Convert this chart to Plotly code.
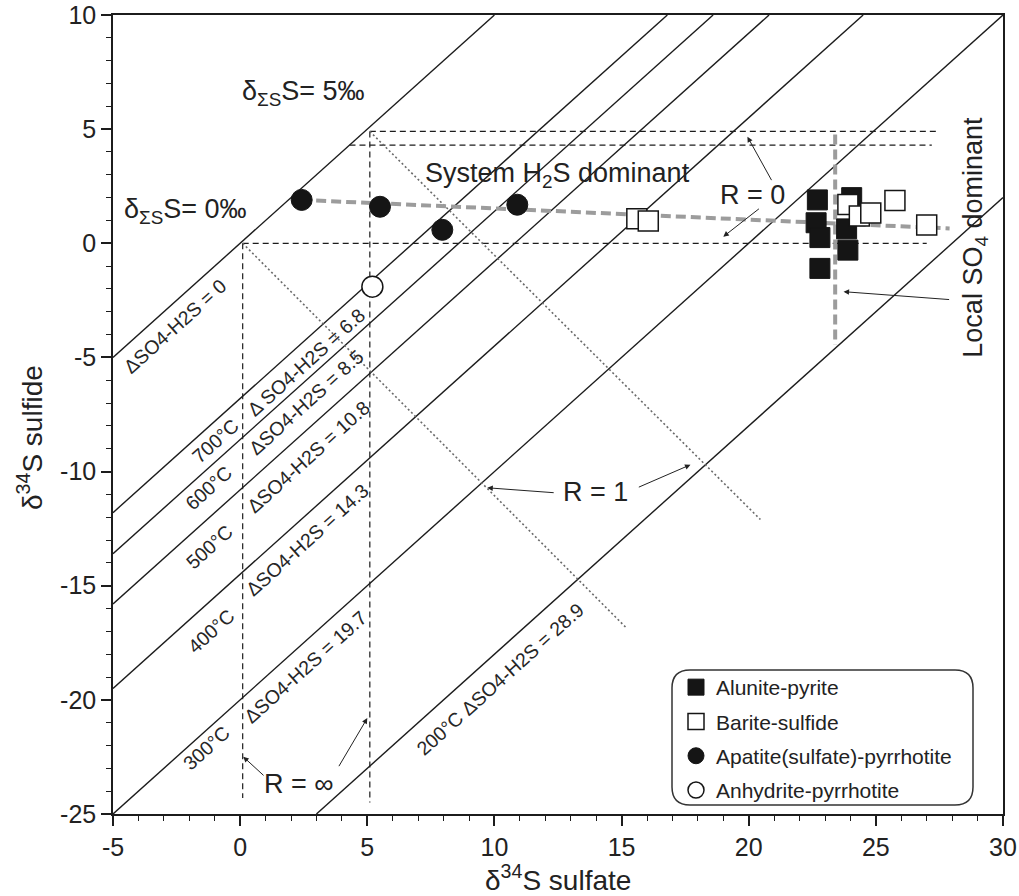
import math
import numpy as np
import plotly.graph_objects as go

# ---------------- data ----------------
alunite_x = [22.7, 24.05, 22.65, 22.8, 23.85, 23.9, 22.8]
alunite_y = [1.9, 2.0, 0.9, 0.25, 0.63, -0.3, -1.1]

barite_x = [15.6, 16.05, 23.9, 24.35, 24.8, 25.75, 27.0]
barite_y = [1.08, 0.98, 1.7, 1.2, 1.33, 1.87, 0.8]

apatite_x = [2.42, 5.5, 7.95, 10.9]
apatite_y = [1.9, 1.6, 0.59, 1.69]

anhydrite_x = [5.2]
anhydrite_y = [-1.9]

# equilibrium fractionation lines  sulfide = sulfate - delta
delta_offsets = [0.0, 6.8, 8.6, 10.8, 14.5, 20.0, 28.0]

# dashed black guide lines (R = 0 / R = inf boxes)
guide_x = [[0.1, 27.0], [4.3, 27.2], [5.1, 27.4], [0.1, 0.1], [5.1, 5.1]]
guide_y = [[0.0, 0.0], [4.3, 4.3], [4.9, 4.9], [0.0, -24.3], [4.9, -24.5]]

# dotted R = 1 lines
r1_x = [[0.1, 15.2], [5.1, 20.46]]
r1_y = [[0.0, -16.86], [4.9, -12.1]]

# grey dashed trend lines
trend_h_x = [2.4, 27.9]
trend_h_y = [1.9, 0.65]
trend_v_x = [23.4, 23.4]
trend_v_y = [4.76, -4.44]

x_tick_vals = [-5, 0, 5, 10, 15, 20, 25, 30]
x_tick_text = ["-5", "0", "5", "10", "15", "20", "25", "30"]
y_tick_vals = [10, 5, 0, -5, -10, -15, -20, -25]
y_tick_text = ["10", "5", "0", "-5", "-10", "-15", "-20", "-25"]

# ---------------- layout constants ----------------
W, H = 1019, 896
ML, MR, MT, MB = 113, 16, 15, 82
XR = [-5, 30]
YR = [-25, 10]
PW, PH = W - ML - MR, H - MT - MB
ang = -math.degrees(math.atan((PH / (YR[1] - YR[0])) / (PW / (XR[1] - XR[0]))))

FONT = "Liberation Sans, Arial, Helvetica, sans-serif"
INK = "#1c1c1c"

fig = go.Figure()

# fractionation lines
for d in delta_offsets:
    xs = max(XR[0], YR[0] + d)
    xe = min(XR[1], YR[1] + d)
    xx = np.array([xs, xe])
    fig.add_trace(go.Scatter(x=xx, y=xx - d, mode="lines",
                             line=dict(color=INK, width=1.4),
                             showlegend=False, hoverinfo="skip"))

for gx, gy in zip(guide_x, guide_y):
    fig.add_trace(go.Scatter(x=gx, y=gy, mode="lines",
                             line=dict(color=INK, width=1.2, dash="6px,4px"),
                             showlegend=False, hoverinfo="skip"))

for rx, ry in zip(r1_x, r1_y):
    fig.add_trace(go.Scatter(x=rx, y=ry, mode="lines",
                             line=dict(color="#6a6a6a", width=1.6, dash="2px,2.5px"),
                             showlegend=False, hoverinfo="skip"))

for tx, ty in [(trend_h_x, trend_h_y), (trend_v_x, trend_v_y)]:
    fig.add_trace(go.Scatter(x=tx, y=ty, mode="lines",
                             line=dict(color="#9c9c9c", width=4, dash="10px,5px"),
                             showlegend=False, hoverinfo="skip"))

fig.add_trace(go.Scatter(x=alunite_x, y=alunite_y, mode="markers", name="Alunite-pyrite",
                         legendgroup="a",
                         marker=dict(symbol="square", size=20, color="#151515",
                                     line=dict(color="#151515", width=1))))
fig.add_trace(go.Scatter(x=barite_x, y=barite_y, mode="markers", name="Barite-sulfide",
                         legendgroup="b",
                         marker=dict(symbol="square", size=20, color="white",
                                     line=dict(color="#151515", width=1.5))))
fig.add_trace(go.Scatter(x=apatite_x, y=apatite_y, mode="markers",
                         name="Apatite(sulfate)-pyrrhotite", legendgroup="c",
                         marker=dict(symbol="circle", size=21, color="#151515",
                                     line=dict(color="#151515", width=1))))
fig.add_trace(go.Scatter(x=anhydrite_x, y=anhydrite_y, mode="markers",
                         name="Anhydrite-pyrrhotite", legendgroup="d",
                         marker=dict(symbol="circle", size=21, color="white",
                                     line=dict(color="#151515", width=1.5))))

ann = []
# labels along the fractionation lines
diag_labels = [
    ("ΔSO4-H2S = 0", -2.56, -3.62),
    ("700°C", -0.99, -8.65),
    ("Δ SO4-H2S = 6.8", 2.6, -5.2),
    ("600°C", -1.26, -10.7),
    ("ΔSO4-H2S = 8.5", 2.6, -6.95),
    ("500°C", -1.22, -13.3),
    ("ΔSO4-H2S = 10.8", 2.67, -9.36),
    ("400°C", -1.14, -17.0),
    ("ΔSO4-H2S = 14.3", 2.63, -13.0),
    ("300°C", -1.34, -22.1),
    ("ΔSO4-H2S = 19.7", 2.56, -18.55),
    ("200°C ΔSO4-H2S = 28.9", 10.23, -19.1),
]
for t, x, y in diag_labels:
    ann.append(dict(x=x, y=y, xref="x", yref="y", text=t, showarrow=False,
                    textangle=ang, font=dict(family=FONT, size=19.5, color="#262626")))

big = dict(family=FONT, size=27, color="#222222")
ann += [
    dict(x=0.0, y=6.6, text="δ<sub>ΣS</sub>S= 5‰", xanchor="left", showarrow=False, font=big),
    dict(x=-4.65, y=1.4, text="δ<sub>ΣS</sub>S= 0‰", xanchor="left", showarrow=False, font=big),
    dict(x=7.2, y=3.0, text="System H<sub>2</sub>S dominant", xanchor="left", showarrow=False, font=big),
    dict(x=20.15, y=2.12, text="R = 0", showarrow=False, font=big),
    dict(x=13.97, y=-10.9, text="R = 1", showarrow=False, font=big),
    dict(x=2.32, y=-23.7, text="R = ∞", showarrow=False, font=big),
    dict(x=28.92, y=0.27, text="Local SO<sub>4</sub> dominant", textangle=-90,
         showarrow=False, font=big),
]
for a in ann:
    a.setdefault("xref", "x")
    a.setdefault("yref", "y")

# arrows: (tail x, tail y, head x, head y)
arrows = [
    (20.93, 2.7, 19.95, 4.67),
    (20.46, 1.56, 19.0, 0.29),
    (27.94, -2.47, 23.73, -2.12),
    (12.39, -10.93, 9.72, -10.71),
    (15.62, -10.71, 17.71, -9.7),
    (0.98, -23.37, 0.12, -22.49),
    (3.85, -22.97, 5.0, -20.8),
]
for tx, ty, hx, hy in arrows:
    ann.append(dict(x=hx, y=hy, ax=tx, ay=ty, xref="x", yref="y", axref="x", ayref="y",
                    text="", showarrow=True, arrowhead=2, arrowsize=1.1, arrowwidth=1,
                    arrowcolor="#222222"))

# axis titles
ann += [
    dict(x=0.5, y=0, xref="paper", yref="paper", yanchor="middle", xanchor="center",
         yshift=-64, showarrow=False,
         text="δ<sup>34</sup>S sulfate", font=dict(family=FONT, size=28, color="#222222")),
    dict(x=0, y=(MT + PH - 438) / PH, xref="paper", yref="paper", xanchor="center",
         yanchor="middle", xshift=-83, showarrow=False, textangle=-90,
         text="δ<sup>34</sup>S sulfide", font=dict(family=FONT, size=28, color="#222222")),
]

# rounded legend frame (paper coords)
bx0, bx1 = (672 - ML) / PW, (973 - ML) / PW
by0, by1 = (MT + PH - 805) / PH, (MT + PH - 670) / PH
rx, ry = 18 / PW, 18 / PH
path = (f"M {bx0+rx},{by1} L {bx1-rx},{by1} Q {bx1},{by1} {bx1},{by1-ry} "
        f"L {bx1},{by0+ry} Q {bx1},{by0} {bx1-rx},{by0} L {bx0+rx},{by0} "
        f"Q {bx0},{by0} {bx0},{by0+ry} L {bx0},{by1-ry} Q {bx0},{by1} {bx0+rx},{by1} Z")

axis_common = dict(showgrid=False, zeroline=False, showline=True, linecolor=INK, linewidth=1.5,
                   mirror=True, ticks="outside", ticklen=10, tickwidth=1.5, tickcolor=INK,
                   automargin=False,
                   tickfont=dict(family=FONT, size=25, color="#222222"),
                   minor=dict(ticks="outside", ticklen=5, tickwidth=1, tickcolor=INK, dtick=1,
                              showgrid=False))

fig.update_layout(
    width=W, height=H,
    margin=dict(l=ML, r=MR, t=MT, b=MB, autoexpand=False),
    paper_bgcolor="white", plot_bgcolor="white",
    xaxis=dict(range=XR, tickvals=x_tick_vals, ticktext=x_tick_text, **axis_common),
    yaxis=dict(range=YR, tickvals=y_tick_vals, ticktext=y_tick_text, **axis_common),
    annotations=ann,
    shapes=[dict(type="path", path=path, xref="paper", yref="paper",
                 line=dict(color="#333333", width=1.5), fillcolor="rgba(0,0,0,0)")],
    legend=dict(x=(676 - ML) / PW, y=(MT + PH - 667) / PH, xanchor="left", yanchor="top",
                bgcolor="rgba(0,0,0,0)", borderwidth=0, tracegroupgap=4,
                font=dict(family=FONT, size=21, color="#222222")),
    showlegend=True,
)

fig.write_html("out.html", config={"displayModeBar": False},
               post_script="document.body.style.margin='0px';document.body.style.overflow='hidden';")
